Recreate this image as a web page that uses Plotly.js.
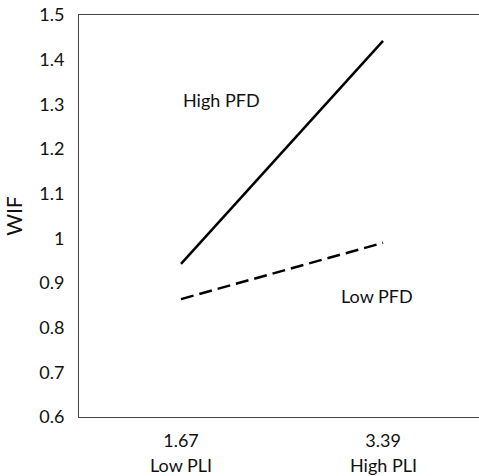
<!DOCTYPE html>
<html><head><meta charset="utf-8">
<script src="https://cdn.plot.ly/plotly-3.0.1.min.js"></script>
<style>html,body{margin:0;padding:0;background:#fff}</style>
</head><body>
<div id="chart" style="width:479px;height:476px"></div>
<script>
const categories = ["1.67", "3.39"];
const categoryNames = ["Low PLI", "High PLI"];
const highPFD = [0.943, 1.442];
const lowPFD = [0.864, 0.990];
const seriesLabels = ["High PFD", "Low PFD"];
const yTicks = [0.6, 0.7, 0.8, 0.9, 1, 1.1, 1.2, 1.3, 1.4, 1.5];

const font = "Lato, 'Open Sans', sans-serif";
const txt = "#111";

const traces = [
  {x: [0, 1], y: highPFD, mode: "lines", name: seriesLabels[0],
   line: {color: "#000", width: 2.5}},
  {x: [0, 1], y: lowPFD, mode: "lines", name: seriesLabels[1],
   line: {color: "#000", width: 2.5, dash: "13px,6px"}}
];

const layout = {
  width: 479, height: 476,
  margin: {l: 79, r: 0, t: 15, b: 59},
  paper_bgcolor: "#fff", plot_bgcolor: "#fff",
  showlegend: false,
  font: {family: font, size: 18, color: txt},
  xaxis: {
    range: [-0.505, 1.475],
    tickvals: [0, 1], ticktext: categories,
    showgrid: false, zeroline: false,
    showline: true, linecolor: "#444", linewidth: 1, mirror: true,
    ticks: "", ticklabelstandoff: 7,
    tickfont: {family: font, size: 18, color: txt}
  },
  yaxis: {
    range: [0.6, 1.5],
    tickvals: yTicks, ticktext: yTicks.map(v => String(v)),
    showgrid: false, zeroline: false,
    showline: true, linecolor: "#444", linewidth: 1,
    ticks: "", ticklabelstandoff: 10,
    tickfont: {family: font, size: 18, color: txt},
    title: {text: "WIF", font: {family: font, size: 21, color: txt}, standoff: 10}
  },
  annotations: [
    {x: 0, y: 0, xref: "x", yref: "paper", yshift: -48, text: categoryNames[0],
     showarrow: false, font: {family: font, size: 18, color: txt}, yanchor: "middle"},
    {x: 1, y: 0, xref: "x", yref: "paper", yshift: -48, text: categoryNames[1],
     showarrow: false, font: {family: font, size: 18, color: txt}, yanchor: "middle"},
    {x: 0.2, y: 1.31, xref: "x", yref: "y", text: seriesLabels[0],
     showarrow: false, font: {family: font, size: 18, color: txt}},
    {x: 0.97, y: 0.87, xref: "x", yref: "y", text: seriesLabels[1],
     showarrow: false, font: {family: font, size: 18, color: txt}}
  ]
};

Plotly.newPlot("chart", traces, layout, {displayModeBar: false, staticPlot: true});
</script>
</body></html>
